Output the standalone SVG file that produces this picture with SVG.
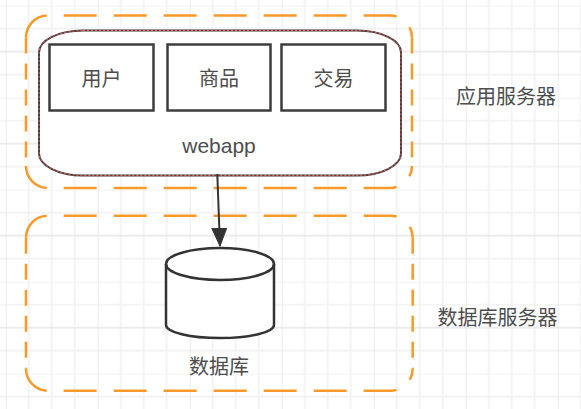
<svg xmlns="http://www.w3.org/2000/svg" width="581" height="409" viewBox="0 0 581 409">
  <style>
    .zone { fill: none; stroke: #f79a2a; stroke-width: 2.5; stroke-linecap: butt; }
    .h { stroke-dasharray: 33 17; }
    .v { stroke-dasharray: 16 10; }
    .box { fill: #ffffff; stroke: #3d3d3d; stroke-width: 2.5; }
    .lbl { font-family: "Noto Sans CJK SC", "Noto Sans", sans-serif; font-size: 20px; fill: #4d4d4d; text-anchor: middle; dominant-baseline: central; }
    .side { font-family: "Noto Sans CJK SC", "Noto Sans", sans-serif; font-size: 20px; fill: #4d4d4d; dominant-baseline: central; }
    .edge { stroke: #333333; stroke-width: 2; fill: none; }
  </style>
  <defs>
    <pattern id="grid" patternUnits="userSpaceOnUse" x="5.7" y="5.7" width="92" height="92">
      <g stroke="#f1f1f1" stroke-width="1.5">
        <line x1="23" y1="0" x2="23" y2="92"/>
        <line x1="46" y1="0" x2="46" y2="92"/>
        <line x1="69" y1="0" x2="69" y2="92"/>
        <line x1="0" y1="0" x2="92" y2="0"/>
        <line x1="0" y1="23" x2="92" y2="23"/>
        <line x1="0" y1="69" x2="92" y2="69"/>
      </g>
      <g stroke="#e6e6e6" stroke-width="1.5">
        <line x1="0" y1="0" x2="0" y2="92"/>
        <line x1="0" y1="46" x2="92" y2="46"/>
      </g>
    </pattern>
    <marker id="arrow" markerUnits="userSpaceOnUse" markerWidth="20" markerHeight="16" refX="18" refY="8" orient="auto" viewBox="0 0 20 16">
      <path d="M0,0.5 L18,8 L0,15.5 Z" fill="#333333" stroke="#333333" stroke-width="1"/>
    </marker>
  </defs>

  <rect x="0" y="0" width="581" height="409" fill="#ffffff"/>
  <rect x="0" y="0" width="581" height="409" fill="url(#grid)"/>

  <g id="app-server">
    <path class="zone h" d="M26,37.5 A22,22 0 0 1 48,15.5 H390 A22,22 0 0 1 412,37.5"/>
    <path class="zone v" d="M26,37.5 V166"/>
    <path class="zone v" d="M412,37.5 V166"/>
    <path class="zone h" d="M26,166 A22,22 0 0 0 48,188 H390 A22,22 0 0 0 412,166"/>
    <text class="side" x="456" y="95">应用服务器</text>
  </g>

  <g id="webapp">
    <rect x="39" y="30.5" width="362" height="145" rx="44" ry="22" fill="#ffffff" stroke="#4a3a3a" stroke-width="2"/>
    <rect x="39" y="30.5" width="362" height="145" rx="44" ry="22" fill="none" stroke="#e06a6a" stroke-width="1" stroke-dasharray="2 2"/>
    <text x="219" y="153" font-family="Liberation Sans, Arial, sans-serif" font-size="21" fill="#4d4d4d" text-anchor="middle">webapp</text>
  </g>

  <g id="user">
    <rect class="box" x="49.5" y="44.5" width="104" height="66"/>
    <text class="lbl" x="101.5" y="77.5">用户</text>
  </g>

  <g id="goods">
    <rect class="box" x="167.5" y="44.5" width="103" height="66"/>
    <text class="lbl" x="219" y="77.5">商品</text>
  </g>

  <g id="trade">
    <rect class="box" x="281.5" y="44.5" width="104" height="66"/>
    <text class="lbl" x="333.5" y="77.5">交易</text>
  </g>

  <g id="db-server">
    <path class="zone h" d="M26,237.7 A22,22 0 0 1 48,215.7 H390.7 A22,22 0 0 1 412.7,237.7"/>
    <path class="zone v" d="M26,237.7 V368.7"/>
    <path class="zone v" d="M412.7,237.7 V368.7"/>
    <path class="zone h" d="M26,368.7 A22,22 0 0 0 48,390.7 H390.7 A22,22 0 0 0 412.7,368.7"/>
    <text class="side" x="437.5" y="316.5">数据库服务器</text>
  </g>

  <g id="database">
    <path d="M166,264 A54,16 0 0 1 274,264 V325 A54,13 0 0 1 166,325 Z" fill="#ffffff" stroke="#333333" stroke-width="2.5"/>
    <path d="M166,264 A54,16 0 0 0 274,264" fill="none" stroke="#333333" stroke-width="2.5"/>
    <text class="lbl" x="219" y="365">数据库</text>
  </g>

  <g id="connectors">
    <line class="edge" x1="217.3" y1="174" x2="220" y2="246" marker-end="url(#arrow)"/>
  </g>
</svg>
